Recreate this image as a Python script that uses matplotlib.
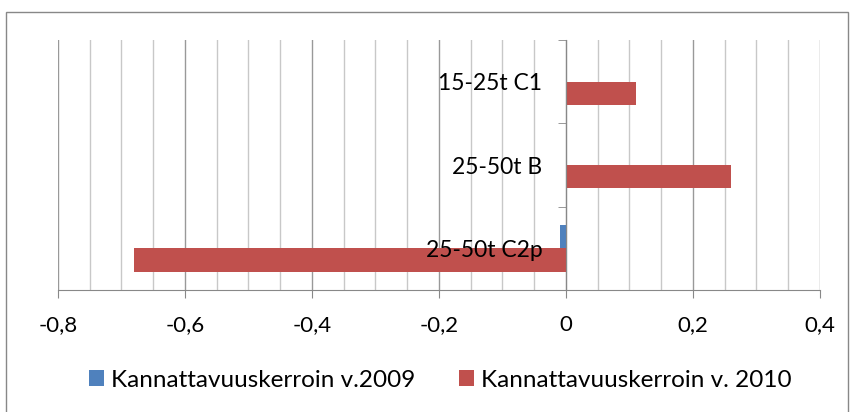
import numpy as np
import matplotlib.pyplot as plt
from matplotlib.patches import Rectangle
from matplotlib.ticker import MultipleLocator, FixedLocator

plt.rcParams['font.family'] = ['Lato', 'DejaVu Sans']

categories = ['25-50t C2p', '25-50t B', '15-25t C1']
v2009 = [-0.01, 0.0, 0.0]
v2010 = [-0.68, 0.26, 0.11]
xticks = [-0.8, -0.6, -0.4, -0.2, 0.0, 0.2, 0.4]
xtick_labels = ['-0,8', '-0,6', '-0,4', '-0,2', '0', '0,2', '0,4']

fig = plt.figure(figsize=(8.53, 4.12), dpi=100)
ax = fig.add_axes([58 / 853, 1 - 290 / 412, (820 - 58) / 853, (290 - 40) / 412])

y = np.arange(len(categories))
h = 0.28
ax.barh(y + h / 2, v2009, height=h, color='#4f81bd', label='Kannattavuuskerroin v.2009', zorder=3)
ax.barh(y - h / 2, v2010, height=h, color='#c0504d', label='Kannattavuuskerroin v. 2010', zorder=3)

ax.set_xlim(-0.8, 0.4)
ax.set_ylim(-0.5, len(categories) - 0.5)

# x axis: major ticks at 0.2, gridlines every 0.05
ax.set_xticks(xticks)
ax.set_xticklabels(xtick_labels)
ax.xaxis.set_minor_locator(MultipleLocator(0.05))
ax.grid(True, axis='x', which='minor', color='#c8c8c8', linewidth=1, zorder=0)
ax.grid(True, axis='x', which='major', color='#999999', linewidth=1, zorder=0)
ax.tick_params(axis='x', which='major', length=6, color='#888888', labelsize=16, pad=12)
ax.tick_params(axis='x', which='minor', length=0)

# y axis sits at x=0, labels drawn over the bars
ax.spines['left'].set_position(('data', 0))
ax.spines['left'].set_color('#888888')
ax.spines['left'].set_zorder(4)
ax.spines['bottom'].set_color('#888888')
ax.spines['top'].set_visible(False)
ax.spines['right'].set_visible(False)
ax.set_yticks(y)
ax.set_yticklabels(categories)
ax.yaxis.set_minor_locator(FixedLocator(np.arange(-0.5, len(categories), 1.0)))
ax.tick_params(axis='y', which='major', length=0, labelsize=16.5, pad=17)
ax.tick_params(axis='y', which='minor', length=6, color='#888888')
ax.yaxis.set_zorder(5)

ax.legend(loc='upper center', bbox_to_anchor=(0.502, -0.27), ncol=2, frameon=False,
          fontsize=17.5, handlelength=0.62, handleheight=0.62, handletextpad=0.29,
          columnspacing=1.8, borderpad=0)

# outer chart border (bottom edge runs off the image)
fig.patches.append(Rectangle((6 / 853, -10 / 412), 842 / 853, 410 / 412,
                             transform=fig.transFigure, fill=False,
                             edgecolor='#888888', linewidth=1))

plt.savefig('out.png', dpi=100)
